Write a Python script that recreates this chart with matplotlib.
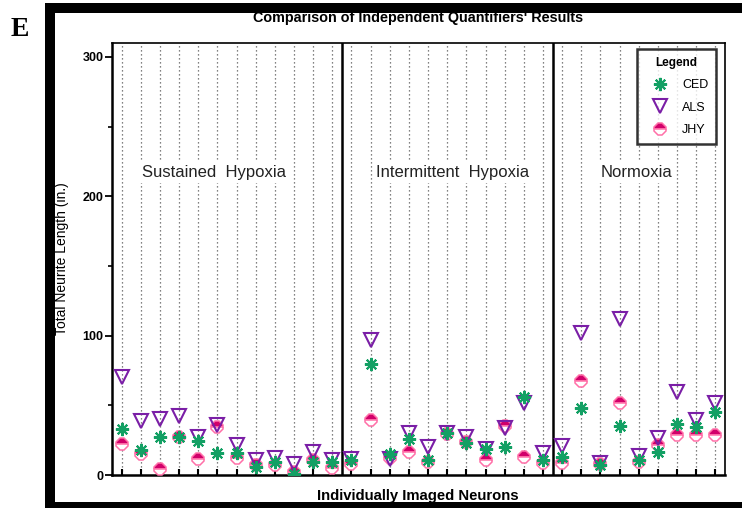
import matplotlib
matplotlib.use("Agg")
import matplotlib.pyplot as plt
from matplotlib.patches import Rectangle

# ---- data ----
groups = ["Sustained  Hypoxia", "Intermittent  Hypoxia", "Normoxia"]
group_sizes = [12, 11, 9]
group_label_x = [4.85, 17.3, 26.9]
ced = [32.8, 18.0, 27.5, 27.0, 24.4, 16.0, 15.6, 6.0, 9.6, 0.7, 9.6, 9.6,
       10.8, 79.5, 15.0, 25.6, 10.8, 29.9, 23.2, 18.4, 20.3, 56.2, 10.8,
       13.2, 48.3, 7.2, 35.4, 10.8, 16.3, 36.4, 34.7, 45.4]
als = [70.0, 38.8, 40.0, 42.3, 27.5, 35.9, 21.5, 10.8, 12.0, 7.9, 16.7, 10.8,
       11.5, 97.0, 11.3, 30.4, 20.3, 30.4, 27.0, 18.7, 33.5, 51.5, 16.0,
       21.0, 101.7, 8.4, 111.8, 13.9, 26.3, 59.8, 39.5, 51.5]
jhy = [22.3, 15.0, 4.0, 27.5, 11.3, 34.7, 12.0, 7.2, 7.0, 2.4, 10.8, 4.8,
       7.9, 39.5, 12.0, 16.3, 9.6, 29.2, 24.0, 10.8, 35.2, 13.2, 8.4,
       8.9, 67.5, 8.0, 51.5, 9.1, 21.5, 28.7, 28.7, 28.7]
yticks = [0, 100, 200, 300]

W, H = 742, 508
fig = plt.figure(figsize=(W / 100, H / 100), dpi=100)
ax = fig.add_axes([112 / W, 1 - 475 / H, (725 - 112) / W, (475 - 43) / H])

n = len(ced)
xs = list(range(n))

# dotted vertical guide lines
for x in xs:
    ax.axvline(x, color="0.35", lw=0.9, ls=(0, (1, 2.2)), zorder=1)

# group separators
start = 0
seps = []
for gs in group_sizes[:-1]:
    start += gs
    seps.append(start - 0.5)
for s in seps:
    ax.axvline(s, color="black", lw=1.8, zorder=2)

green = "#13a064"
purple = "#7a1ea6"
magenta = "#d1006a"
pink = "#ff70a8"

ax.plot(xs, jhy, ls="none", marker="8", ms=8.5, fillstyle="top",
        markerfacecolor=magenta, markerfacecoloralt="white",
        markeredgecolor=pink, mew=1.1, label="JHY", zorder=3)
ax.plot(xs, als, ls="none", marker="v", ms=9.5, markerfacecolor="none",
        markeredgecolor=purple, mew=1.5, label="ALS", zorder=4)
ax.plot(xs, ced, ls="none", marker=(8, 2, 0), ms=9.5, color=green,
        mew=1.5, label="CED", zorder=5)

ax.set_xlim(-0.5, n - 0.5)
ax.set_ylim(0, 310)
ax.set_xticks(xs)
ax.set_xticklabels([])
ax.tick_params(axis="x", direction="in", length=4, width=1.5)
ax.set_yticks(yticks)
ax.set_yticks([50, 150, 250], minor=True)
ax.set_yticklabels([str(v) for v in yticks], fontsize=9, fontweight="bold",
                   family="Liberation Sans")
ax.tick_params(axis="y", which="major", length=5, width=1.3, pad=1)
ax.tick_params(axis="y", which="minor", length=3, width=1.2)
for side in ["left", "bottom"]:
    ax.spines[side].set_linewidth(1.8)
for side in ["top", "right"]:
    ax.spines[side].set_linewidth(1.2)

# group labels
for name, cx in zip(groups, group_label_x):
    ax.text(cx, 217, name, ha="center", va="center", fontsize=12,
            family="Liberation Sans", color="#222222",
            bbox=dict(facecolor="white", edgecolor="none", pad=2), zorder=6)

# legend
h, l = ax.get_legend_handles_labels()
order = [2, 1, 0]
leg = ax.legend([h[i] for i in order], [l[i] for i in order],
                title="Legend", loc="upper right",
                bbox_to_anchor=(0.985, 0.986), borderaxespad=0,
                frameon=True, fancybox=False, edgecolor="black",
                prop=dict(family="Liberation Sans", size=9),
                title_fontproperties=dict(family="Liberation Sans", size=8.5,
                                          weight="bold"),
                labelspacing=0.85, handletextpad=0.6, borderpad=0.6,
                handlelength=2.4)
leg.get_frame().set_linewidth(1.8)
leg.set_zorder(10)

ax.set_ylabel("Total Neurite Length (in.)", fontsize=10,
              family="Liberation Sans", labelpad=10)
fig.text(418 / W, 1 - 496 / H, "Individually Imaged Neurons", ha="center",
         va="center", fontsize=10.7, fontweight="bold", family="Liberation Sans")
fig.text(418 / W, 1 - 18 / H, "Comparison of Independent Quantifiers' Results",
         ha="center", va="center", fontsize=10.4, fontweight="bold",
         family="Liberation Sans")
fig.text(20 / W, 1 - 29 / H, "E", ha="center", va="center", fontsize=20,
         fontweight="bold", family="Liberation Serif")

# thick black frame
for (x0, y0, w, hh) in [(45, 3, 742 - 45, 10), (45, 3, 10, 505), (45, 502, 742 - 45, 6)]:
    fig.patches.append(Rectangle((x0 / W, 1 - (y0 + hh) / H), w / W, hh / H,
                                 transform=fig.transFigure, facecolor="black",
                                 edgecolor="none", zorder=20))

fig.savefig("out.png", dpi=100)
